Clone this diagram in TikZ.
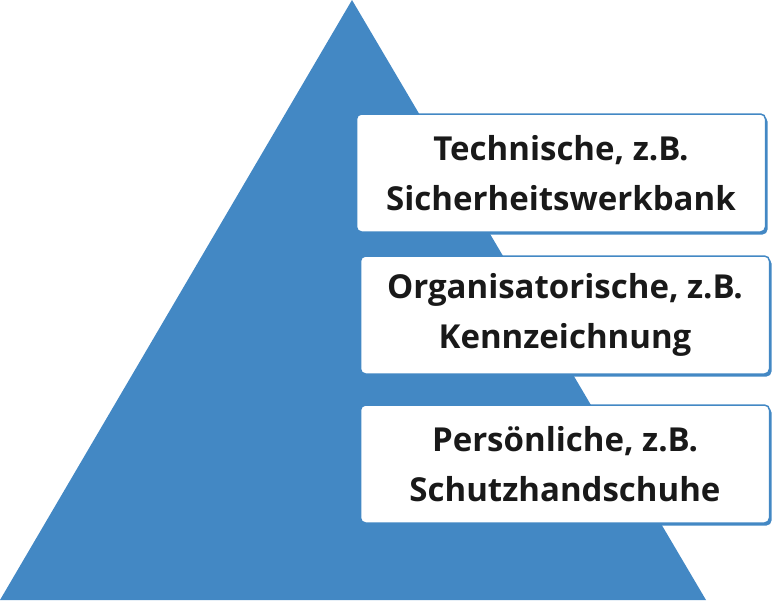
\documentclass[tikz,border=0pt]{standalone}
\usepackage{fontspec}
\setsansfont{Open Sans}
\usepackage{tikz}
\usetikzlibrary{shadows}
\definecolor{pyrblau}{RGB}{67,136,196}

\begin{document}
\begin{tikzpicture}[x = 1pt, y = -1pt,
  tafel/.style = {draw = pyrblau, line width = 1.5pt, fill = white, rounded corners = 5pt,
    minimum width = 409pt, minimum height = 118pt, align = center, text = black!90,
    font = \sffamily\bfseries\fontsize{33}{50}\selectfont,
    drop shadow = {shadow xshift = 2pt, shadow yshift = -2.5pt, fill = pyrblau, opacity = 1}}]
\useasboundingbox (0,0) rectangle (774,600);
\fill[pyrblau] (352,0) -- (706,600) -- (0,600) -- cycle;
\node[tafel] (tech) at (561,173) {Technische, z.B.\\Sicherheitswerkbank};
\node[tafel] (orga) at (565,315) {Organisatorische, z.B.\\Kennzeichnung};
\node[tafel] (pers) at (565,464) {Persönliche, z.B.\\Schutzhandschuhe};
\end{tikzpicture}
\end{document}
